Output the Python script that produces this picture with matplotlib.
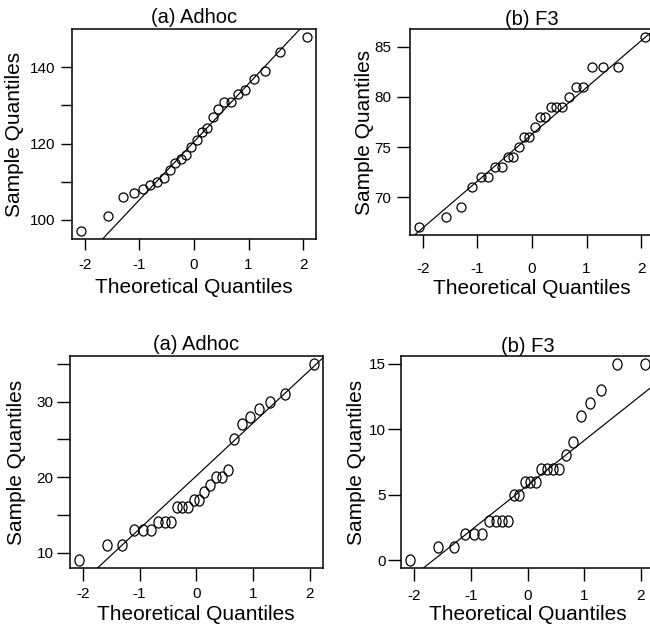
import matplotlib
matplotlib.use("Agg")
import matplotlib.pyplot as plt
from matplotlib.path import Path
from matplotlib.transforms import Affine2D

plt.rcParams['font.family'] = ['Liberation Sans', 'DejaVu Sans']

# theoretical normal quantiles of the 26 points (x of every panel)
theo_q = [-2.070, -1.574, -1.304, -1.105, -0.942, -0.801, -0.674, -0.558, -0.448,
          -0.345, -0.243, -0.145, -0.048, 0.048, 0.145, 0.243, 0.345, 0.448,
          0.558, 0.674, 0.801, 0.942, 1.105, 1.304, 1.574, 2.070]

# sorted sample values
adhoc_top = [97, 101, 106, 107, 108, 109, 110, 111, 113, 115, 116, 117, 119,
             121, 123, 124, 127, 129, 131, 131, 133, 134, 137, 139, 144, 148]
f3_top = [67, 68, 69, 71, 72, 72, 73, 73, 74, 74, 75, 76, 76,
          77, 78, 78, 79, 79, 79, 80, 81, 81, 83, 83, 83, 86]
adhoc_bot = [9, 11, 11, 13, 13, 13, 14, 14, 14, 16, 16, 16, 17,
             17, 18, 19, 20, 20, 21, 25, 27, 28, 29, 30, 31, 35]
f3_bot = [0, 1, 1, 2, 2, 2, 3, 3, 3, 3, 5, 5, 6,
          6, 6, 7, 7, 7, 7, 8, 9, 11, 12, 13, 15, 15]

# reference lines (intercept, slope) as drawn
lines = [(120.46, 15.22), (76.27, 4.66), (20.15, 7.0), (5.71, 3.43)]

titles = ["(a) Adhoc", "(b) F3", "(a) Adhoc", "(b) F3"]
yticks = [[100, 110, 120, 130, 140], [70, 75, 80, 85],
          [10, 15, 20, 25, 30, 35], [0, 5, 10, 15]]
yticklabels = [["100", "", "120", "", "140"], ["70", "75", "80", "85"],
               ["10", "", "20", "", "30", ""], ["0", "5", "10", "15"]]
xticks = [-2, -1, 0, 1, 2]

W, H = 650, 627
PT = 0.72  # points per pixel at dpi 100

# layout in pixels: box (l, r, t, b), title pad, tick len, x/y tick pad, xlabel y, ylabel x
layout = [
    dict(box=(72, 316, 29, 239), tpad=6, tlen=11, xpad=8.5, ypad=5.5, xl=288, yl=15),
    dict(box=(410, 654, 29, 235), tpad=4, tlen=13, xpad=14, ypad=5.5, xl=289, yl=364),
    dict(box=(69.5, 323, 356, 568), tpad=5.5, tlen=13, xpad=6.5, ypad=3, xl=614, yl=17),
    dict(box=(401, 654, 356, 568), tpad=3, tlen=13, xpad=7.5, ypad=2.5, xl=614, yl=357),
]

ellipse = Path.unit_circle().transformed(Affine2D().scale(0.82, 1.0))
markers = [("o", 6.5), ("o", 6.5), (ellipse, 8.0), (ellipse, 8.0)]
samples = [adhoc_top, f3_top, adhoc_bot, f3_bot]


def r_range(v):
    # R style axis range: data range widened by 4% on each side
    lo, hi = min(v), max(v)
    d = (hi - lo) * 0.04
    return lo - d, hi + d


fig = plt.figure(figsize=(W / 100, H / 100), dpi=100)

for i in range(4):
    lay = layout[i]
    l, r, t, b = lay["box"]
    ax = fig.add_axes([l / W, 1 - b / H, (r - l) / W, (b - t) / H])
    mk, ms = markers[i]
    ax.plot(theo_q, samples[i], linestyle="none", marker=mk, ms=ms,
            mfc="none", mec="black", mew=0.9)
    a, s = lines[i]
    ax.axline((0, a), slope=s, color="black", lw=0.85)

    ax.set_xlim(r_range(theo_q))
    ax.set_ylim(r_range(samples[i]))
    ax.set_xticks(xticks)
    ax.set_xticklabels([str(x) for x in xticks])
    ax.set_yticks(yticks[i])
    ax.set_yticklabels(yticklabels[i])
    ax.tick_params(axis="both", direction="out", length=lay["tlen"] * PT,
                   width=1.0, labelsize=11, colors="black")
    ax.tick_params(axis="x", pad=lay["xpad"] * PT)
    ax.tick_params(axis="y", pad=lay["ypad"] * PT)
    for sp in ax.spines.values():
        sp.set_linewidth(1.1)

    ax.set_title(titles[i], fontsize=14.5, pad=lay["tpad"] * PT)
    ax.set_xlabel("Theoretical Quantiles", fontsize=15, va="center")
    ax.xaxis.set_label_coords(0.5, (b - lay["xl"]) / (b - t))
    ax.set_ylabel("Sample Quantiles", fontsize=15, va="center")
    ax.yaxis.set_label_coords((lay["yl"] - l) / (r - l), 0.5)

fig.savefig("out.png", dpi=100)
